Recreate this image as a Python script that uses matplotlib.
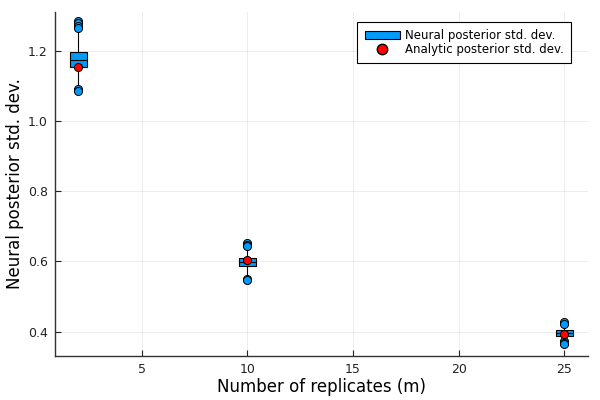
import matplotlib
matplotlib.use("Agg")
from matplotlib import pyplot as plt
from matplotlib.patches import Patch
from matplotlib.lines import Line2D

# number of replicates and box statistics
m = [2, 10, 25]
q1 = [1.155, 0.587, 0.387]
med = [1.175, 0.598, 0.395]
q3 = [1.197, 0.609, 0.403]
whislo = [1.100, 0.560, 0.378]
whishi = [1.255, 0.635, 0.413]
fliers = [
    [1.287, 1.281, 1.271, 1.266, 1.091, 1.086],
    [0.653, 0.647, 0.643, 0.549, 0.547],
    [0.427, 0.421, 0.373, 0.367, 0.364],
]
analytic = [1.155, 0.603, 0.394]

blue = "#009AFA"

stats = []
for i in range(len(m)):
    stats.append(dict(q1=q1[i], med=med[i], q3=q3[i], whislo=whislo[i],
                      whishi=whishi[i], fliers=fliers[i]))

plt.rcParams['font.family'] = ['DejaVu Sans']
fig = plt.figure(figsize=(6, 4), dpi=100)
ax = fig.add_axes([54.7 / 600, 1 - 355.7 / 400, (588 - 54.7) / 600, (355.7 - 12) / 400])

ax.bxp(stats, positions=m, widths=0.8, patch_artist=True, showcaps=False,
       boxprops=dict(facecolor=blue, edgecolor="black", linewidth=0.8),
       medianprops=dict(color="black", linewidth=0.8),
       whiskerprops=dict(color="black", linewidth=0.8),
       flierprops=dict(marker="o", markerfacecolor=blue, markeredgecolor="black",
                       markersize=5.8, markeredgewidth=0.7),
       zorder=3)
ax.scatter(m, analytic, s=34, color="red", edgecolor="black", linewidth=0.7, zorder=5)

ax.set_xlim(0.88, 26.12)
ax.set_ylim(0.331, 1.312)
ax.set_xticks([5, 10, 15, 20, 25])
ax.set_xticklabels(["5", "10", "15", "20", "25"])
ax.set_yticks([0.4, 0.6, 0.8, 1.0, 1.2])
ax.set_yticklabels(["0.4", "0.6", "0.8", "1.0", "1.2"])

ax.grid(True, color="black", alpha=0.1, linewidth=0.5)
ax.set_axisbelow(True)
ax.spines['top'].set_visible(False)
ax.spines['right'].set_visible(False)
for s in ['left', 'bottom']:
    ax.spines[s].set_color("#333333")
    ax.spines[s].set_linewidth(1.0)
ax.tick_params(direction="in", length=4, width=0.8, labelsize=9, colors="#222222", pad=5)

ax.set_xlabel("Number of replicates (m)", fontsize=12, labelpad=2)
ax.set_ylabel("Neural posterior std. dev.", fontsize=12, labelpad=3)

handles = [Patch(facecolor=blue, edgecolor="black", linewidth=0.8),
           Line2D([], [], marker="o", linestyle="none", markerfacecolor="red",
                  markeredgecolor="black", markersize=7.5)]
leg = ax.legend(handles, ["Neural posterior std. dev.", "Analytic posterior std. dev."],
                loc="upper right", bbox_to_anchor=(0.9685, 0.9715), fontsize=8.5,
                fancybox=False, framealpha=1, edgecolor="black",
                borderpad=0.6, handlelength=3.0, handletextpad=0.45, labelspacing=0.12,
                borderaxespad=0.0)
leg.get_frame().set_linewidth(0.8)

fig.savefig("out.png", dpi=100)
